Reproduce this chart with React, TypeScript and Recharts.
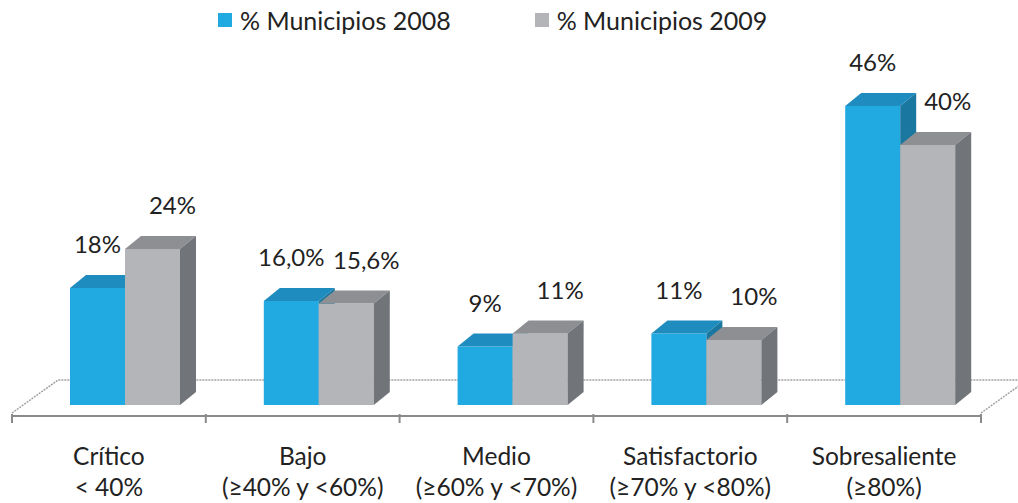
import React from "react";
import { BarChart, Bar, XAxis, YAxis, LabelList, Legend, Customized } from "recharts";

const categories = ["Crítico", "Bajo", "Medio", "Satisfactorio", "Sobresaliente"];
const ranges = ["< 40%", "(≥40% y <60%)", "(≥60% y <70%)", "(≥70% y <80%)", "(≥80%)"];
const muni2008 = [18, 16.0, 9, 11, 46];
const muni2009 = [24, 15.6, 11, 10, 40];
const labels2008 = ["18%", "16,0%", "9%", "11%", "46%"];
const labels2009 = ["24%", "15,6%", "11%", "10%", "40%"];

const W = 1018;
const H = 503;
const margin = { top: 91, right: 37, left: 12, bottom: 27 };
const AXIS_H = 60;
const FONT = "Lato, 'Open Sans', sans-serif";

// 3d look
const SHIFT_X = 16;
const SHIFT_Y = 11;
const DEPTH_X = 16;
const DEPTH_Y = 13;

const blue = { front: "#21aae1", top: "#1f8cbf", side: "#1a77a0" };
const gray = { front: "#b4b5b8", top: "#8e8f93", side: "#717478" };

const data = categories.map((c, i) => ({
  cat: c,
  v08: muni2008[i],
  v09: muni2009[i],
  l08: labels2008[i],
  l09: labels2009[i],
}));

const Box3D = (props: any) => {
  const { x, y, width, height, colors } = props;
  if (!height) return null;
  const fx = x + SHIFT_X;
  const fy = y - SHIFT_Y;
  const r = fx + width;
  return (
    <g>
      <rect x={fx} y={fy} width={width} height={height} fill={colors.front} />
      <polygon
        points={`${fx},${fy} ${fx + DEPTH_X},${fy - DEPTH_Y} ${r + DEPTH_X},${fy - DEPTH_Y} ${r},${fy}`}
        fill={colors.top}
      />
      <polygon
        points={`${r},${fy} ${r + DEPTH_X},${fy - DEPTH_Y} ${r + DEPTH_X},${fy + height - DEPTH_Y} ${r},${fy + height}`}
        fill={colors.side}
      />
    </g>
  );
};

const makeLabel = (xOff: number) => (p: any) => {
  const { x, y, width, value } = p;
  return (
    <text
      x={x + width / 2 + SHIFT_X + xOff}
      y={y - SHIFT_Y - 35}
      textAnchor="middle"
      fontSize={24}
      fontFamily={FONT}
      fill="#222"
    >
      {value}
    </text>
  );
};

const CatTick = (p: any) => {
  const { x, y, payload } = p;
  const i = categories.indexOf(payload.value);
  return (
    <text x={x} y={y} textAnchor="middle" fontSize={24.5} fontFamily={FONT} fill="#222">
      <tspan x={x} dy={41}>{payload.value}</tspan>
      <tspan x={x} dy={31}>{ranges[i]}</tspan>
    </text>
  );
};

// floor of the 3d plot + category boundary ticks
const Floor = () => {
  const x = margin.left;
  const width = W - margin.left - margin.right;
  const bottom = H - margin.bottom - AXIS_H;
  const back = bottom - 36;
  const depth = 46;
  const step = width / categories.length;
  const floorStyle = { stroke: "#a0a0a0", strokeWidth: 1.5, strokeDasharray: "2 1", fill: "none" };
  return (
    <g>
      <polyline points={`${x},${bottom - 3} ${x + depth},${back} ${W},${back}`} {...floorStyle} />
      <line x1={x + width} y1={bottom - 3} x2={x + width + depth} y2={back} {...floorStyle} />
      {categories.concat([""]).map((_, i) => (
        <line
          key={i}
          x1={x + i * step}
          x2={x + i * step}
          y1={bottom - 2}
          y2={bottom + 7}
          stroke="#8a8a8a"
          strokeWidth={2}
        />
      ))}
    </g>
  );
};

const LegendBox = () => (
  <div style={{ display: "flex", alignItems: "center", fontFamily: FONT, fontSize: 25, color: "#222", paddingLeft: 218 }}>
    <span style={{ width: 14, height: 14, background: blue.front, display: "inline-block" }} />
    <span style={{ marginLeft: 8 }}>% Municipios 2008</span>
    <span style={{ width: 14, height: 14, background: gray.front, display: "inline-block", marginLeft: 84 }} />
    <span style={{ marginLeft: 8 }}>% Municipios 2009</span>
  </div>
);

export default function App() {
  return (
    <div style={{ position: "absolute", left: 0, top: 0, background: "#fff" }}>
      <BarChart width={W} height={H} data={data} margin={margin} barGap={0} barSize={55}>
        <Customized component={<Floor />} />
        <XAxis
          dataKey="cat"
          height={AXIS_H}
          interval={0}
          tickLine={false}
          axisLine={{ stroke: "#8a8a8a", strokeWidth: 2 }}
          tick={<CatTick />}
        />
        <YAxis hide domain={[0, 50]} />
        <Legend
          verticalAlign="middle"
          content={<LegendBox />}
          wrapperStyle={{ top: 5, left: 0, width: W }}
        />
        <Bar dataKey="v08" isAnimationActive={false} shape={(p: any) => <Box3D {...p} colors={blue} />}>
          <LabelList dataKey="l08" content={makeLabel(0)} />
        </Bar>
        <Bar dataKey="v09" isAnimationActive={false} shape={(p: any) => <Box3D {...p} colors={gray} />}>
          <LabelList dataKey="l09" content={makeLabel(20)} />
        </Bar>
      </BarChart>
    </div>
  );
}
